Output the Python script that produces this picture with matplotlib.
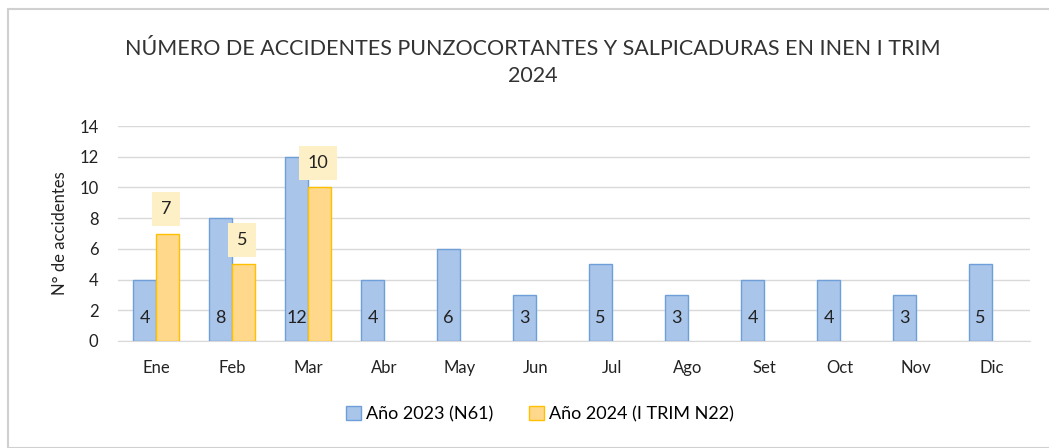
import numpy as np
import matplotlib.pyplot as plt
from matplotlib.patches import Rectangle

plt.rcParams['font.family'] = ['Lato', 'DejaVu Sans']

meses = ['Ene', 'Feb', 'Mar', 'Abr', 'May', 'Jun', 'Jul', 'Ago', 'Set', 'Oct', 'Nov', 'Dic']
anio_2023 = [4, 8, 12, 4, 6, 3, 5, 3, 4, 4, 3, 5]
anio_2024 = [7, 5, 10]
etiquetas = ['Año 2023 (N61)', 'Año 2024 (I TRIM N22)']

fig = plt.figure(figsize=(10.49, 4.48), dpi=100)
fig.patches.append(Rectangle((8 / 1049, 0), 1, 1 - 9 / 448, transform=fig.transFigure,
                             fill=False, edgecolor='#d0d0d0', lw=1.5))
ax = fig.add_axes([0.1125, 0.239, 0.8695, 0.4795])

x = np.arange(len(meses))
w = 0.3
b1 = ax.bar(x - w / 2, anio_2023, w, color='#a9c5ea', edgecolor='#6f9fd8', lw=1, label=etiquetas[0], zorder=3)
x2 = np.arange(len(anio_2024))
b2 = ax.bar(x2 + w / 2, anio_2024, w, color='#ffd88c', edgecolor='#ffc000', lw=1, label=etiquetas[1], zorder=3)

for xi, v in zip(x, anio_2023):
    ax.text(xi - w / 2, 1.5, str(v), ha='center', va='center', fontsize=13, color='#222222', zorder=4)
for xi, v in zip(x2, anio_2024):
    ax.text(xi + w / 2 - 0.02, v + 1.6, str(v), ha='center', va='center', fontsize=13, color='#222222', zorder=4,
            bbox=dict(boxstyle='square,pad=0.5', fc='#fdf0c6', ec='none'))

ax.set_xlim(-0.5, len(meses) - 0.5)
ax.set_ylim(0, 14)
ax.set_yticks(range(0, 15, 2))
ax.set_xticks(x)
ax.set_xticklabels(meses)
ax.tick_params(length=0, labelsize=12, colors='#222222')
ax.tick_params(axis='x', pad=14)
ax.tick_params(axis='y', pad=14)
ax.grid(axis='y', color='#d9d9d9', lw=1, zorder=0)
for s in ['top', 'right', 'left']:
    ax.spines[s].set_visible(False)
ax.spines['bottom'].set_color('#d9d9d9')
ax.set_ylabel('N° de accidentes', fontsize=12, color='#222222', labelpad=8)

fig.text(0.508, 0.86, 'NÚMERO DE ACCIDENTES PUNZOCORTANTES Y SALPICADURAS EN INEN I TRIM\n2024',
         ha='center', va='center', fontsize=15.5, color='#333333', linespacing=1.45)

fig.legend(handles=[b1, b2], labels=etiquetas, loc='center', bbox_to_anchor=(0.515, 0.075), ncol=2,
           frameon=False, fontsize=13, handlelength=0.8, handleheight=0.8, columnspacing=2.0, handletextpad=0.3)

fig.savefig('out.png', dpi=100)
